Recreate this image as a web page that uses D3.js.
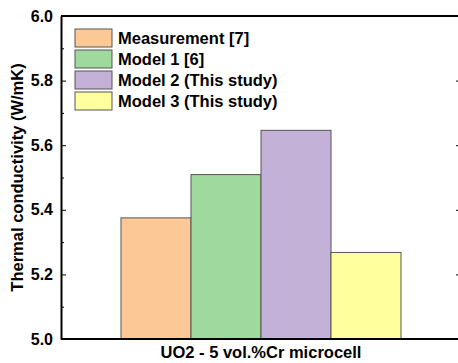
<!DOCTYPE html>
<html>
<head>
<meta charset="utf-8">
<script src="https://cdn.jsdelivr.net/npm/d3@7"></script>
<style>
  body { margin: 0; background: #fff; }
  text { font-family: "Liberation Sans", Arial, sans-serif; font-weight: bold; }
</style>
</head>
<body>
<svg width="458" height="363"></svg>
<script>
var series = ["Measurement [7]", "Model 1 [6]", "Model 2 (This study)", "Model 3 (This study)"];
var values = [5.375, 5.509, 5.646, 5.268];
var colors = ["#fcc896", "#a0d99e", "#c3b1d7", "#ffff9e"];
var yTicks = [5.0, 5.2, 5.4, 5.6, 5.8, 6.0];
var yMinor = [5.1, 5.3, 5.5, 5.7, 5.9];
var category = "UO2 - 5 vol.%Cr microcell";

var svg = d3.select("svg"),
    margin = {top: 16, right: -1, bottom: 24, left: 61},
    width = +svg.attr("width") - margin.left - margin.right,
    height = +svg.attr("height") - margin.top - margin.bottom,
    g = svg.append("g").attr("transform", "translate(" + margin.left + "," + margin.top + ")");

var y = d3.scaleLinear()
    .domain([5.0, 6.0])
    .range([height, 0]);

// bars sit in the middle 280px of the frame
var x = d3.scaleBand()
    .domain(series)
    .range([60, 340]);

g.selectAll("rect.bar")
    .data(series)
  .enter().append("rect")
    .attr("class", "bar")
    .attr("x", function(d) { return x(d); })
    .attr("y", function(d, i) { return y(values[i]); })
    .attr("width", x.bandwidth())
    .attr("height", function(d, i) { return height - y(values[i]); })
    .attr("fill", function(d, i) { return colors[i]; })
    .attr("stroke", "#555")
    .attr("stroke-width", 1);

// left axis
var left = g.append("g")
    .call(d3.axisLeft(y).tickValues(yTicks).tickFormat(d3.format(".1f")).tickSizeInner(-5).tickSizeOuter(0).tickPadding(8));
left.select(".domain").attr("stroke-width", 2);
left.selectAll("text").attr("font-size", 16).attr("fill", "#000");

g.append("g")
    .call(d3.axisLeft(y).tickValues(yMinor).tickFormat("").tickSizeInner(-3).tickSizeOuter(0))
    .select(".domain").remove();

// right axis
var right = g.append("g")
    .attr("transform", "translate(" + width + ",0)")
    .call(d3.axisRight(y).tickValues(yTicks).tickFormat("").tickSizeInner(-3).tickSizeOuter(0));
right.select(".domain").attr("stroke-width", 2);

// top & bottom frame
g.append("line").attr("x1", 0).attr("x2", width).attr("y1", 0).attr("y2", 0)
    .attr("stroke", "#000").attr("stroke-width", 2);
g.append("line").attr("x1", 0).attr("x2", width).attr("y1", height).attr("y2", height)
    .attr("stroke", "#000").attr("stroke-width", 2);

// axis titles
svg.append("text")
    .attr("transform", "translate(23," + (margin.top + height / 2) + ") rotate(-90)")
    .attr("text-anchor", "middle")
    .attr("font-size", 16.5)
    .text("Thermal conductivity (W/mK)");

svg.append("text")
    .attr("x", margin.left + 200)
    .attr("y", 358)
    .attr("text-anchor", "middle")
    .attr("font-size", 16.5)
    .text(category);

// legend
var legend = g.selectAll("g.legend")
    .data(series)
  .enter().append("g")
    .attr("class", "legend")
    .attr("transform", function(d, i) { return "translate(14," + (13 + i * 21) + ")"; });

legend.append("rect")
    .attr("width", 37)
    .attr("height", 18)
    .attr("fill", function(d, i) { return colors[i]; })
    .attr("stroke", "#555");

legend.append("text")
    .attr("x", 43)
    .attr("y", 15)
    .attr("font-size", 16.5)
    .text(function(d) { return d; });
</script>
</body>
</html>
